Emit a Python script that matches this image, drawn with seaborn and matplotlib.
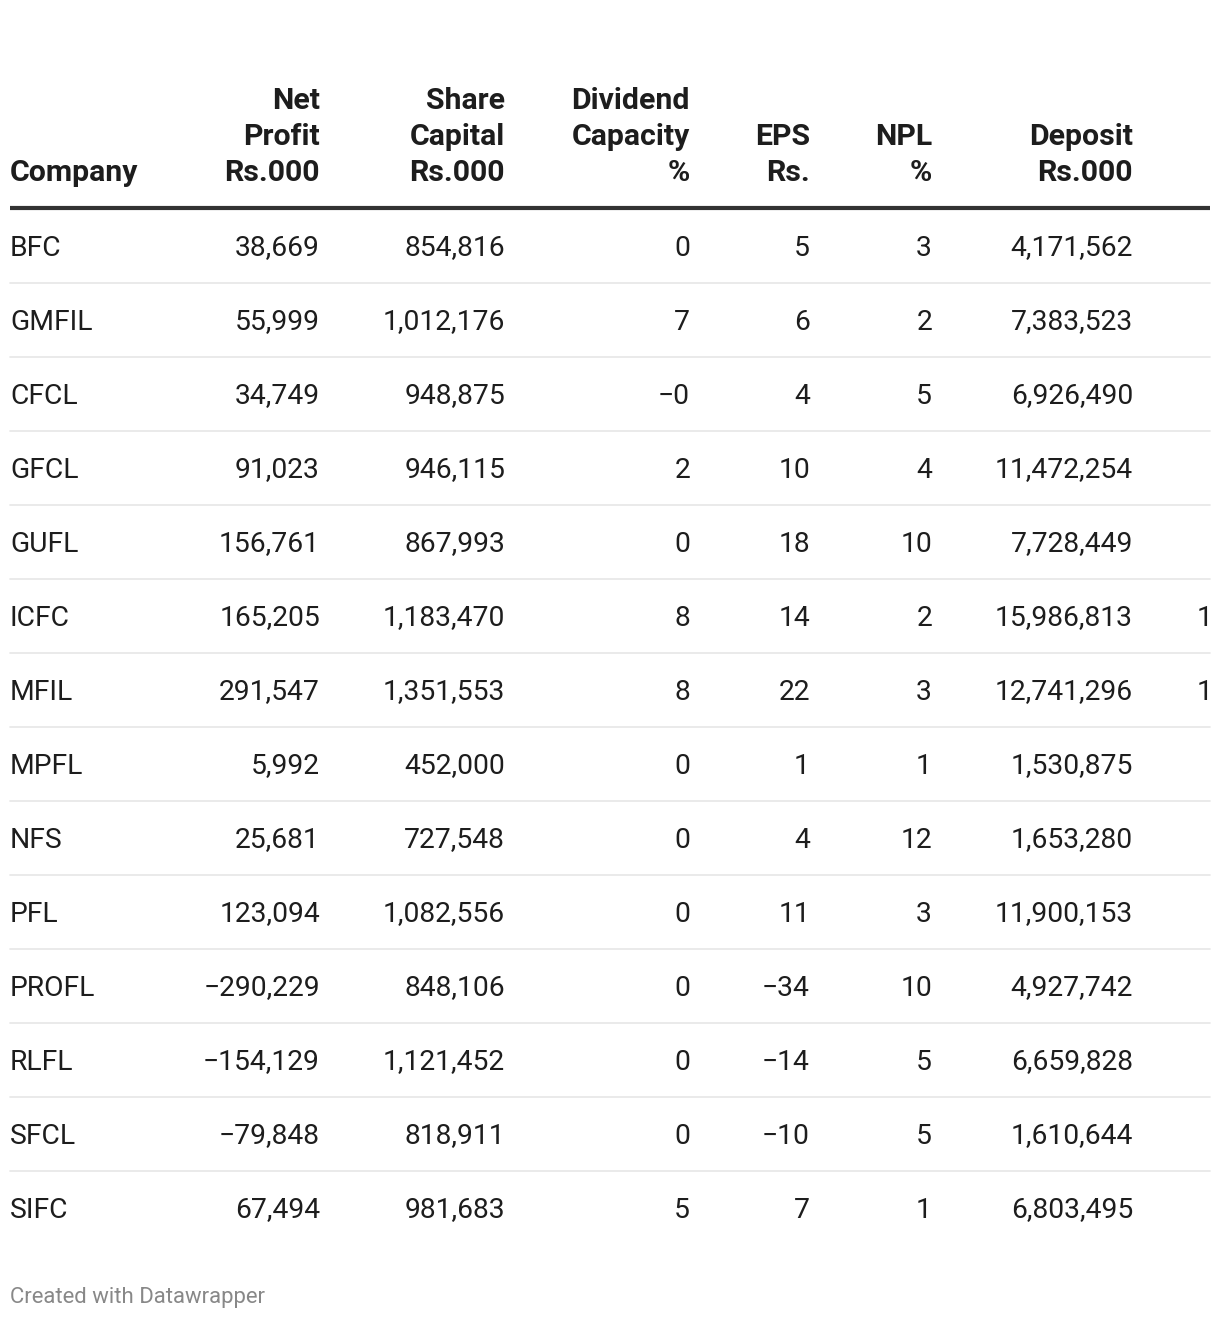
import matplotlib
matplotlib.use("Agg")
import matplotlib.pyplot as plt
import seaborn as sns
import pandas as pd

companies = ["BFC", "GMFIL", "CFCL", "GFCL", "GUFL", "ICFC", "MFIL", "MPFL",
             "NFS", "PFL", "PROFL", "RLFL", "SFCL", "SIFC"]
net_profit = [38669, 55999, 34749, 91023, 156761, 165205, 291547, 5992,
              25681, 123094, -290229, -154129, -79848, 67494]
share_capital = [854816, 1012176, 948875, 946115, 867993, 1183470, 1351553,
                 452000, 727548, 1082556, 848106, 1121452, 818911, 981683]
dividend_capacity = [0, 7, -0.2, 2, 0, 8, 8, 0, 0, 0, 0, 0, 0, 5]
eps = [5, 6, 4, 10, 18, 14, 22, 1, 4, 11, -34, -14, -10, 7]
npl = [3, 2, 5, 4, 10, 2, 3, 1, 12, 3, 10, 5, 5, 1]
deposit = [4171562, 7383523, 6926490, 11472254, 7728449, 15986813, 12741296,
           1530875, 1653280, 11900153, 4927742, 6659828, 1610644, 6803495]
# partially visible (cut-off) next column: only leading characters visible
cut_column = ["", "", "", "", "", "1", "1", "", "", "", "", "", "", ""]

headers = [["Company"], ["Net", "Profit", "Rs.000"], ["Share", "Capital", "Rs.000"],
           ["Dividend", "Capacity", "%"], ["EPS", "Rs."], ["NPL", "%"],
           ["Deposit", "Rs.000"]]

df = pd.DataFrame({
    "Company": companies, "Net Profit": net_profit, "Share Capital": share_capital,
    "Dividend": dividend_capacity, "EPS": eps, "NPL": npl, "Deposit": deposit,
    "Cut": cut_column,
})

sns.set_theme(style="white")
plt.rcParams["font.family"] = ["Roboto", "DejaVu Sans"]

W, H = 1220, 1320
fig = plt.figure(figsize=(W / 100, H / 100), dpi=100)
ax = fig.add_axes([0, 0, 1, 1])
ax.set_xlim(0, W)
ax.set_ylim(H, 0)
ax.axis("off")

TEXT = "#1d1d1d"
col_x = [10, 320, 505, 690, 810, 932, 1133]
col_ha = ["left", "right", "right", "right", "right", "right", "right"]
fs_head = 21.8
fs_body = 20.3

# headers (bottom aligned)
line_h = 36
bottom_y = 173
for x, ha, lines in zip(col_x, col_ha, headers):
    n = len(lines)
    for k, t in enumerate(lines):
        y = bottom_y - (n - 1 - k) * line_h
        ax.text(x, y, t, ha=ha, va="center", fontsize=fs_head,
                fontweight="bold", color=TEXT)

ax.plot([10, 1210], [208, 208], color="#333333", lw=3.0, solid_capstyle="butt")


def fmt(v):
    return f"{v:,.0f}".replace("-", "\u2212")


row0 = 246
step = 74
cols = ["Net Profit", "Share Capital", "Dividend", "EPS", "NPL", "Deposit"]
for i, r in df.iterrows():
    y = row0 + i * step
    ty = y + 2
    ax.text(col_x[0], ty, r["Company"], ha="left", va="center",
            fontsize=fs_body, color=TEXT)
    for c, x in zip(cols, col_x[1:]):
        ax.text(x, ty, fmt(r[c]), ha="right", va="center", fontsize=fs_body,
                color=TEXT)
    if r["Cut"]:
        ax.text(1197, ty, r["Cut"], ha="left", va="center", fontsize=fs_body,
                color=TEXT, clip_on=True)
    if i < len(df) - 1:
        ax.plot([10, 1210], [y + 37, y + 37], color="#e6e6e6", lw=1.2)

ax.text(10, 1298, "Created with Datawrapper", ha="left", va="center",
        fontsize=15.9, color="#888888")

fig.savefig("out.png", dpi=100, facecolor="white")
